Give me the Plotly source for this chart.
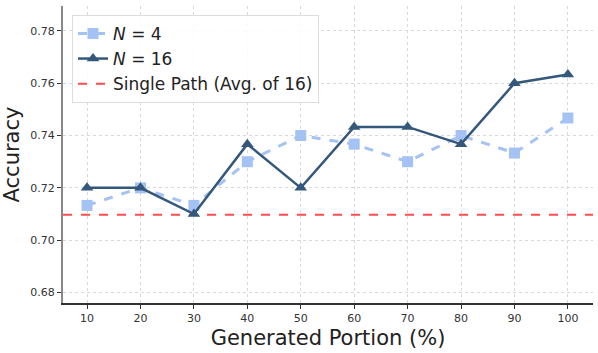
import plotly.graph_objects as go

portion = [10, 20, 30, 40, 50, 60, 70, 80, 90, 100]
acc_n4 = [0.7133, 0.72, 0.7133, 0.73, 0.74, 0.7367, 0.73, 0.74, 0.7333, 0.7467]
acc_n16 = [0.72, 0.72, 0.71, 0.7367, 0.72, 0.7433, 0.7433, 0.7367, 0.76, 0.7633]
single_path = 0.7097
y_ticks = [0.68, 0.70, 0.72, 0.74, 0.76, 0.78]

fig = go.Figure()
fig.add_trace(go.Scatter(
    x=[5.5, 104.7], y=[single_path, single_path], mode="lines",
    name="Single Path (Avg. of 16)", legendrank=3,
    line=dict(color="#ff4c4c", width=2, dash="dash"),
))
fig.add_trace(go.Scatter(
    x=portion, y=acc_n4, mode="lines+markers", name="<i>N</i> = 4",
    legendrank=1,
    line=dict(color="#a4c2f4", width=3, dash="dash"),
    marker=dict(symbol="square", size=11, color="#a4c2f4"),
))
fig.add_trace(go.Scatter(
    x=portion, y=acc_n16, mode="lines+markers", name="<i>N</i> = 16",
    legendrank=2,
    line=dict(color="#34577c", width=2.5),
    marker=dict(symbol="triangle-up", size=11, color="#34577c"),
))

fig.update_layout(
    width=598, height=353,
    margin=dict(l=63, r=5, t=6, b=50),
    plot_bgcolor="white", paper_bgcolor="white",
    font=dict(family="DejaVu Sans", color="#222"),
    legend=dict(
        x=0.017, y=0.97, xanchor="left", yanchor="top",
        bgcolor="rgba(255,255,255,0.85)", bordercolor="#dddddd", borderwidth=1,
        font=dict(size=17),
    ),
)
fig.update_xaxes(
    range=[5.5, 104.7], tickvals=portion, automargin=False,
    title=dict(text="Generated Portion (%)", font=dict(size=21), standoff=6),
    tickfont=dict(size=11, color="#333"),
    showgrid=True, gridcolor="#d9d9d9", griddash="dot", gridwidth=1,
    showline=True, linecolor="#333", linewidth=1.5,
    ticks="outside", ticklen=4, tickcolor="#333", zeroline=False,
)
fig.update_yaxes(
    range=[0.676, 0.7895], tickvals=y_ticks, tickformat=".2f", automargin=False,
    title=dict(text="Accuracy", font=dict(size=21), standoff=6),
    tickfont=dict(size=11, color="#333"),
    showgrid=True, gridcolor="#d9d9d9", griddash="dot", gridwidth=1,
    showline=True, linecolor="#888", linewidth=2,
    ticks="outside", ticklen=4, tickcolor="#333", zeroline=False,
)

# the page's default body margin would shift the chart by 8px
fig.write_html("out.html", config={"displayModeBar": False},
               post_script="document.body.style.margin='0';")
